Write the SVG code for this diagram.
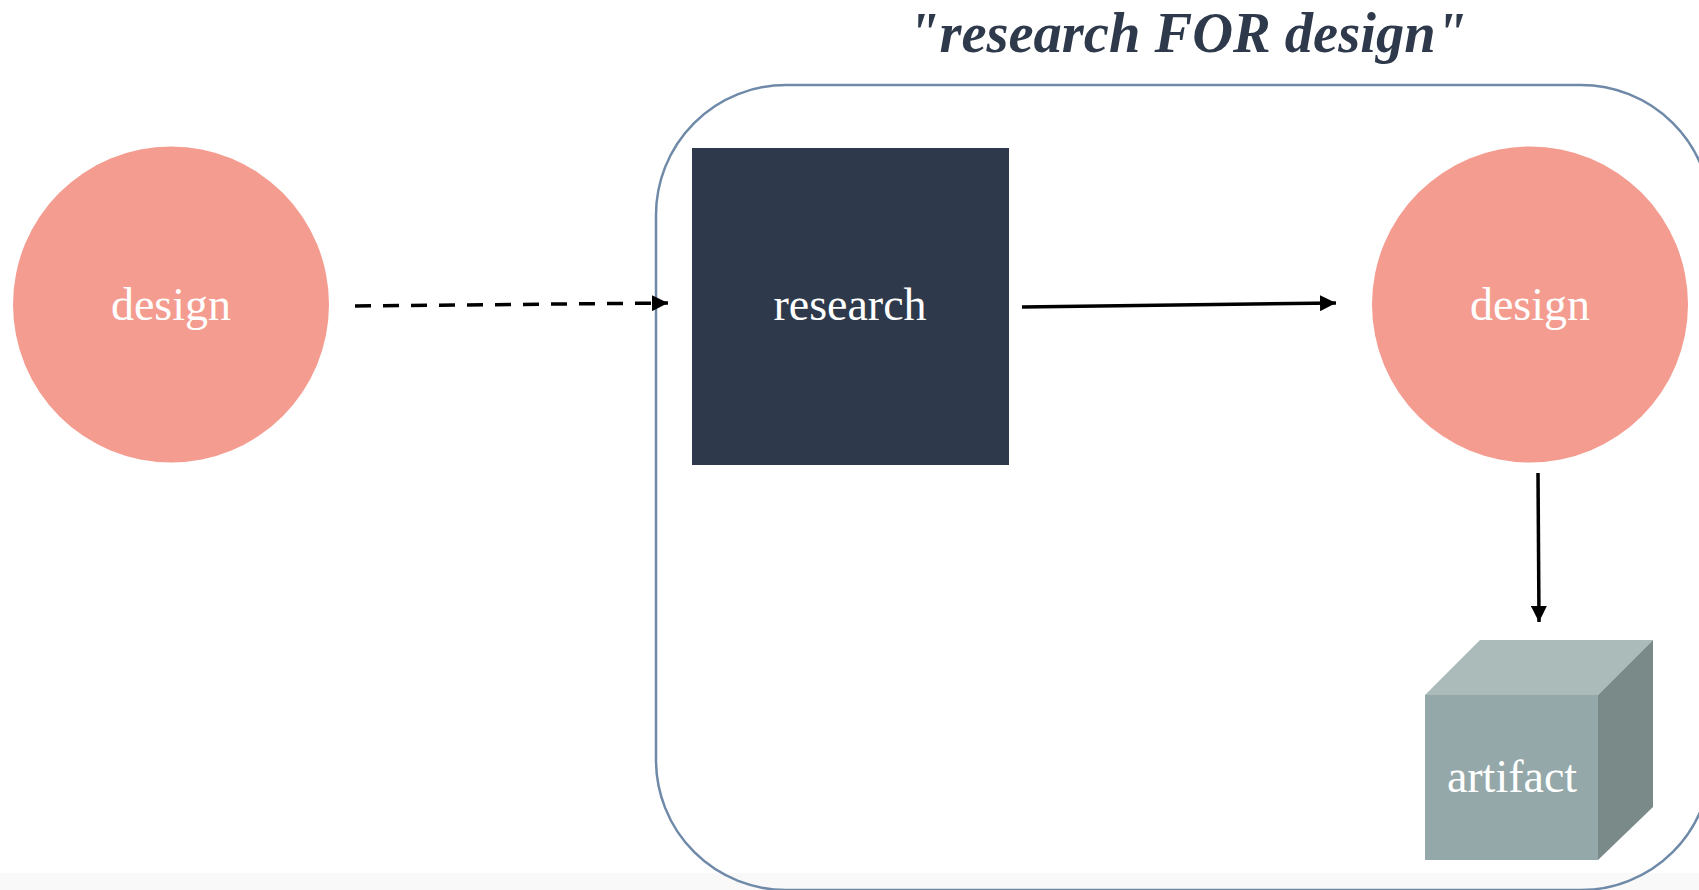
<svg xmlns="http://www.w3.org/2000/svg" width="1699" height="890" viewBox="0 0 1699 890">
<defs>
<style>
.lbl{font-family:"Liberation Serif","Times New Roman",serif;font-size:46px;fill:#ffffff;text-anchor:middle}
.circ{fill:#f49c8f}
.conn{stroke:#000;stroke-width:3.5;fill:none}
</style>
<marker id="ah" viewBox="0 0 10 10" refX="10" refY="5" markerWidth="16" markerHeight="16" markerUnits="userSpaceOnUse" orient="auto">
<path d="M0,0 L10,5 L0,10 Z" fill="#000"/>
</marker>
</defs>
<rect x="0" y="0" width="1699" height="890" fill="#ffffff"/>
<rect x="0" y="873" width="1699" height="17" fill="#f9f9f9"/>
<g id="container">
<rect x="656" y="85" width="1055" height="805" rx="130" ry="130" fill="none" stroke="#6f8aa8" stroke-width="2.5"/>
<text x="908" y="52" textLength="559" lengthAdjust="spacingAndGlyphs" style="font-family:'Liberation Serif','Times New Roman',serif;font-style:italic;font-weight:bold;font-size:58px;fill:#2e3a4b">"research FOR design"</text>
</g>
<g id="design1">
<circle class="circ" cx="171" cy="304.5" r="158"/>
<text class="lbl" x="171" y="320">design</text>
</g>
<g id="research">
<rect x="692" y="148" width="317" height="317" fill="#2e3a4b"/>
<text class="lbl" x="850" y="320">research</text>
</g>
<g id="design2">
<circle class="circ" cx="1530" cy="304.5" r="158"/>
<text class="lbl" x="1530" y="320">design</text>
</g>
<g id="artifact">
<polygon points="1425,695 1480,640 1653,640 1598,695" fill="#abbbba"/>
<polygon points="1598,695 1653,640 1653,807 1598,860" fill="#7a8a88"/>
<rect x="1425" y="695" width="173" height="165" fill="#94a8a9"/>
<text class="lbl" x="1512" y="792">artifact</text>
</g>
<g id="connectors">
<line class="conn" x1="355" y1="306" x2="668" y2="303" stroke-dasharray="16,12" marker-end="url(#ah)"/>
<line class="conn" x1="1022" y1="307" x2="1336" y2="303" marker-end="url(#ah)"/>
<line class="conn" x1="1538" y1="473" x2="1539" y2="622" marker-end="url(#ah)"/>
</g>
</svg>
